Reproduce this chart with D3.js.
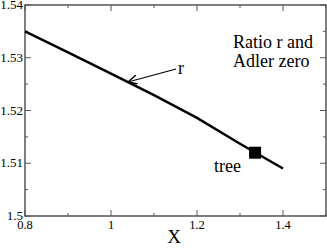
<!DOCTYPE html>
<html>
<head>
<script src="https://d3js.org/d3.v7.min.js"></script>
<style>
	body { margin: 0; background: #fff; }
	svg { display: block; }
</style>
</head>
<body>
<svg id="chart" width="327" height="248"></svg>
<script>
// data
var xs = [0.8, 0.9, 1.0, 1.1, 1.2, 1.3, 1.4];
var ratio = [1.535, 1.531, 1.527, 1.5229, 1.5186, 1.5137, 1.509];
var treeX = [1.335];
var treeY = [1.512];
var xTicks = [0.8, 1, 1.2, 1.4];
var xMinor = [0.9, 1.1, 1.3, 1.5];
var yTicks = [1.5, 1.51, 1.52, 1.53, 1.54];
var yMinor = [1.505, 1.515, 1.525, 1.535];

var FONT = "'Liberation Serif'";

var svg = d3.select("#chart");
// plot box (note: "top" is taken by window.top, so use other names)
var pLeft = 25, pRight = 326, pTop = 5, pBottom = 216;

var x = d3.scaleLinear().domain([0.8, 1.5]).range([pLeft, pRight]);
var y = d3.scaleLinear().domain([1.5, 1.54]).range([pBottom, pTop]);

var axisColor = "#555";

function label(px, py, size, str, anchor) {
	return svg.append("text").attr("x", px).attr("y", py)
		.attr("font-size", size)
		.attr("text-anchor", anchor || "start")
		.style("font-family", FONT)
		.text(str);
}

// frame
svg.append("rect")
	.attr("x", pLeft).attr("y", pTop)
	.attr("width", pRight - pLeft).attr("height", pBottom - pTop)
	.attr("fill", "none").attr("stroke", axisColor).attr("stroke-width", 1.5);

// ticks, inward on every side
function ticksX(vals, len) {
	vals.forEach(function(v) {
		svg.append("line").attr("x1", x(v)).attr("x2", x(v))
			.attr("y1", pBottom).attr("y2", pBottom - len)
			.attr("stroke", axisColor).attr("stroke-width", 1);
		svg.append("line").attr("x1", x(v)).attr("x2", x(v))
			.attr("y1", pTop).attr("y2", pTop + len)
			.attr("stroke", axisColor).attr("stroke-width", 1);
	});
}
function ticksY(vals, len) {
	vals.forEach(function(v) {
		svg.append("line").attr("x1", pLeft).attr("x2", pLeft + len)
			.attr("y1", y(v)).attr("y2", y(v))
			.attr("stroke", axisColor).attr("stroke-width", 1);
		svg.append("line").attr("x1", pRight).attr("x2", pRight - len)
			.attr("y1", y(v)).attr("y2", y(v))
			.attr("stroke", axisColor).attr("stroke-width", 1);
	});
}
ticksX(xTicks, 6); ticksX(xMinor, 3);
ticksY(yTicks, 6); ticksY(yMinor, 3);

// tick labels
xTicks.forEach(function(v) {
	label(x(v), pBottom + 13, 12.5, v, "middle");
});
yTicks.forEach(function(v) {
	label(pLeft - 2, y(v) + 4, 13, v, "end");
});

label(x(1.147), 243, 19, "X", "middle");

// curve
var line = d3.line().x(function(d, i) { return x(xs[i]); }).y(function(d) { return y(d); });
svg.append("path").datum(ratio)
	.attr("d", line)
	.attr("fill", "none").attr("stroke", "#000").attr("stroke-width", 2.5);

// tree-level marker
svg.append("rect")
	.attr("x", x(treeX[0]) - 6).attr("y", y(treeY[0]) - 6)
	.attr("width", 12).attr("height", 12).attr("fill", "#000");

// annotations
svg.append("defs").append("marker")
	.attr("id", "head").attr("viewBox", "0 0 10 10")
	.attr("refX", 10).attr("refY", 5)
	.attr("markerWidth", 8).attr("markerHeight", 8)
	.attr("orient", "auto")
	.append("path").attr("d", "M0,0 L10,5 L0,10").attr("fill", "none").attr("stroke", "#000").attr("stroke-width", 1.5);

svg.append("line").attr("x1", 176).attr("y1", 69).attr("x2", 128).attr("y2", 82)
	.attr("stroke", "#000").attr("stroke-width", 1.2).attr("marker-end", "url(#head)");
label(178, 74, 18, "r");

label(233, 48, 18, "Ratio r and");
label(233, 67, 18, "Adler zero");
label(214, 172, 18, "tree");
</script>
</body>
</html>
